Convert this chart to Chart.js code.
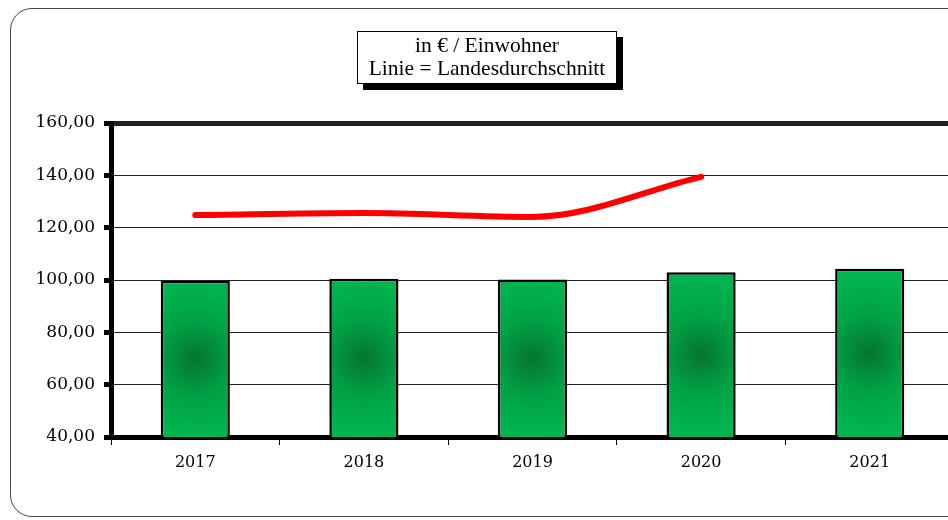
<!DOCTYPE html>
<html>
<head>
<meta charset="utf-8">
<script src="https://cdn.jsdelivr.net/npm/chart.js@4.4.1/dist/chart.umd.min.js"></script>
<style>
  html, body { margin: 0; padding: 0; width: 948px; height: 520px; overflow: hidden; background: #fff; }
  #frame { position: absolute; left: 10px; top: 8px; width: 980px; height: 509px; border: 1px solid #444; border-radius: 22px; box-sizing: border-box; }
  #c { position: absolute; left: 0; top: 0; }
  #title { position: absolute; left: 357px; top: 31px; width: 260px; height: 53px; box-sizing: border-box;
           border: 1px solid #000; background: #fff; box-shadow: 6px 6px 0 #000;
           font-family: "Liberation Serif", serif; font-size: 21.5px; line-height: 23px; text-align: center; padding-top: 2px; color: #000; white-space: nowrap; }
</style>
</head>
<body>
<div id="frame"></div>
<canvas id="c" width="960" height="520"></canvas>
<div id="title">in € / Einwohner<br>Linie = Landesdurchschnitt</div>
<script>
const categories = ["2017", "2018", "2019", "2020", "2021"];
const gemeindeValues = [99.7, 100.5, 100.2, 103.0, 104.3];
const landesValues = [124.8, 125.6, 124.1, 139.4, null];
const yTicks = [40, 60, 80, 100, 120, 140, 160];

function barGradient(ctx) {
  const chart = ctx.chart;
  if (!chart.chartArea || ctx.dataIndex === undefined) return '#00b050';
  const x = chart.scales.x.getPixelForValue(ctx.dataIndex);
  const yTop = chart.scales.y.getPixelForValue(ctx.raw);
  const yBot = chart.scales.y.getPixelForValue(yTicks[0]);
  const cy = (yTop + yBot) / 2;
  const g = chart.ctx.createRadialGradient(x, cy, 0, x, cy, 78);
  g.addColorStop(0, '#06752d');
  g.addColorStop(0.5, '#00a246');
  g.addColorStop(1, '#00b550');
  return g;
}

new Chart(document.getElementById('c'), {
  data: {
    labels: categories,
    datasets: [
      {
        type: 'line',
        data: landesValues,
        borderColor: '#ff0000',
        borderWidth: 6,
        borderCapStyle: 'round',
        pointRadius: 0,
        cubicInterpolationMode: 'monotone',
        spanGaps: false,
        order: 0
      },
      {
        type: 'bar',
        data: gemeindeValues,
        backgroundColor: barGradient,
        borderColor: '#000',
        borderWidth: 2.5,
        borderSkipped: false,
        barPercentage: 0.41,
        categoryPercentage: 1,
        order: 1
      }
    ]
  },
  options: {
    responsive: false,
    animation: false,
    layout: { padding: { top: 123, right: 6, bottom: 0, left: 0 } },
    plugins: { legend: { display: false }, tooltip: { enabled: false }, title: { display: false } },
    scales: {
      x: {
        offset: true,
        afterFit: s => { s.height = 83; },
        grid: { offset: true, drawOnChartArea: false, color: '#000', lineWidth: 1, tickLength: 8 },
        border: { display: true, color: '#000', width: 5 },
        ticks: { color: '#000', padding: 8, font: { family: 'DejaVu Serif', size: 16 } }
      },
      y: {
        min: 40, max: 160,
        afterFit: s => { s.width = 111; },
        afterBuildTicks: s => { s.ticks = yTicks.map(v => ({ value: v })); },
        grid: {
          color: '#222',
          lineWidth: c => (c.tick && c.tick.value === 160) ? 5 : 1,
          tickColor: '#000', tickWidth: 5, tickLength: 7
        },
        border: { display: true, color: '#000', width: 5 },
        ticks: {
          color: '#000', padding: 9,
          font: { family: 'DejaVu Serif', size: 17 },
          callback: v => Number(v).toFixed(2).replace('.', ',')
        }
      }
    }
  }
});
</script>
</body>
</html>
